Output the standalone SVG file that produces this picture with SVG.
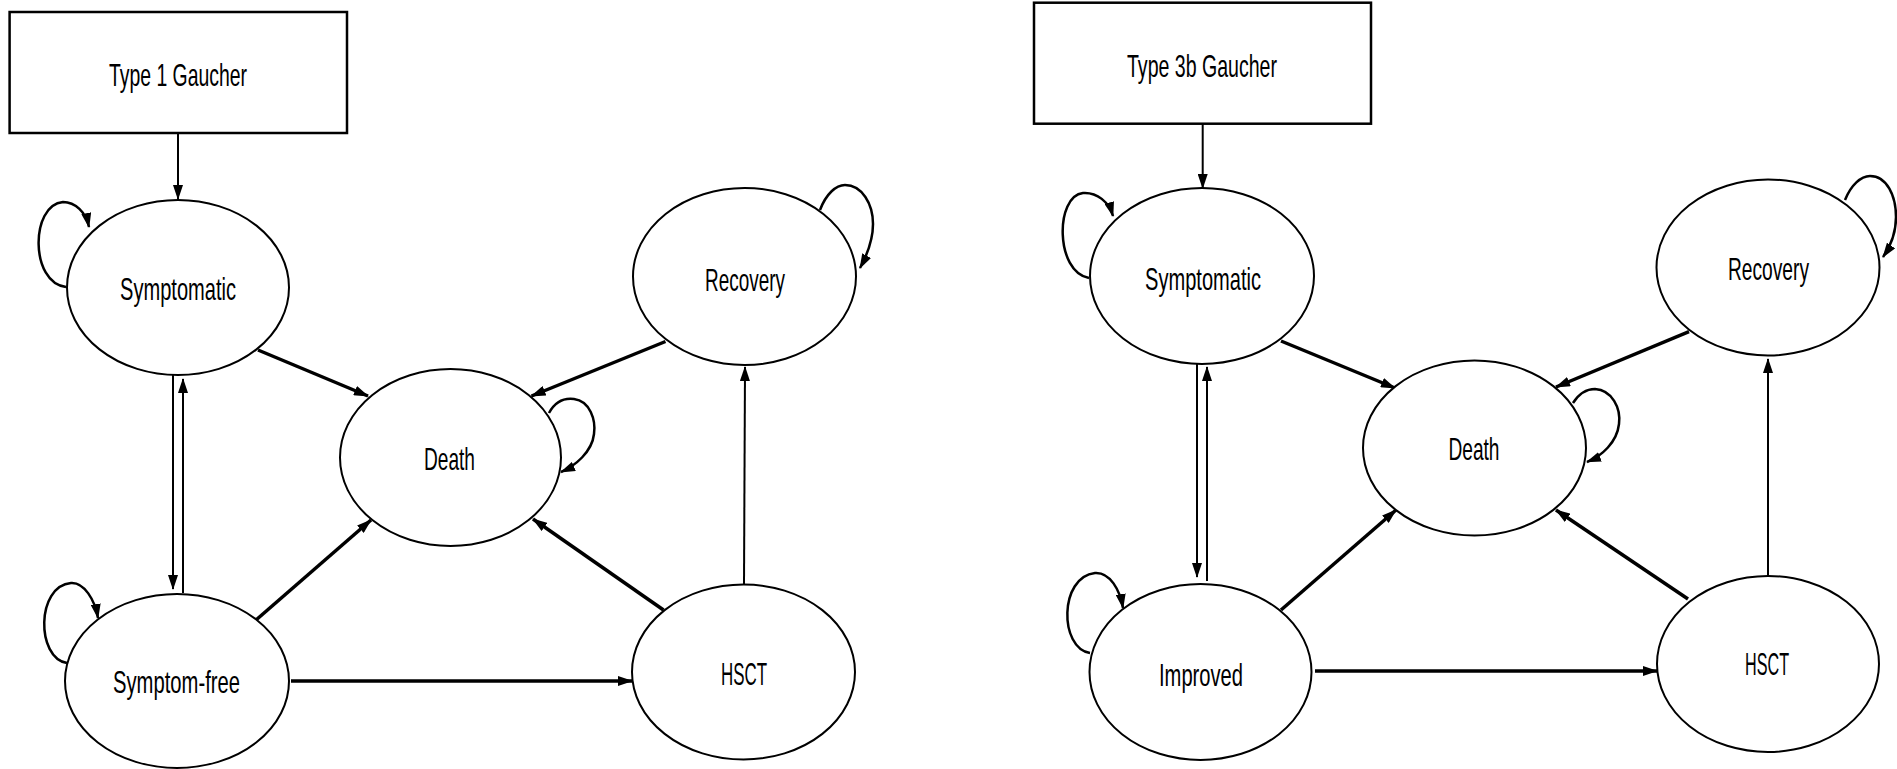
<svg xmlns="http://www.w3.org/2000/svg" width="1897" height="769" viewBox="0 0 1897 769">
<defs>
<marker id="ah" markerUnits="userSpaceOnUse" viewBox="0 0 15 10" markerWidth="15" markerHeight="10" refX="14" refY="5" orient="auto">
<path d="M0,0 L15,5 L0,10 z" fill="#000"/>
</marker>
</defs>
<style>
.box{fill:#fff;stroke:#000;stroke-width:2.5}
.node{fill:#fff;stroke:#000;stroke-width:2}
.lbl{font-family:"Liberation Sans",Arial,sans-serif;font-size:32px;fill:#000;text-anchor:middle}
.thin{fill:none;stroke:#000;stroke-width:2;marker-end:url(#ah)}
.thick{fill:none;stroke:#000;stroke-width:3.5;marker-end:url(#ah)}
.loop{fill:none;stroke:#000;stroke-width:2.5;marker-end:url(#ah)}
</style>
<rect width="1897" height="769" fill="#fff"/>

<g id="connectors">
<!-- left diagram -->
<path class="thin" d="M178,133 L178,199"/>
<path class="thick" d="M258,350 L368,396"/>
<path class="thin" d="M173,375 L173,589"/>
<path class="thin" d="M183,593 L183,379"/>
<path class="thick" d="M256,620 L371,520"/>
<path class="thick" d="M291,681 L632,681"/>
<path class="thick" d="M665.5,341.5 L531.5,396"/>
<path class="thick" d="M663.5,610 L533,519"/>
<path class="thin" d="M744,584.5 L745,367"/>
<path class="loop" d="M66,287 C30,283 30,205 63,202 C75,202 86,212 89,227"/>
<path class="loop" d="M67,663 C36,658 36,586 71,583 C84,582 95,600 98,618"/>
<path class="loop" d="M549,413 C556,400 566,398 574,399 C590,401 596,420 594,434 C592,452 575,466 561,472"/>
<path class="loop" d="M820,210 C826,194 836,185 845,185 C862,185 873,204 873,224 C873,240 867,255 860,268"/>
<!-- right diagram -->
<path class="thin" d="M1202.7,124 L1202.7,188"/>
<path class="thick" d="M1281,341 L1395,388"/>
<path class="thin" d="M1197,364 L1197,577"/>
<path class="thin" d="M1207,581 L1207,367"/>
<path class="thick" d="M1281,610 L1396,510"/>
<path class="thick" d="M1315,671 L1657,671"/>
<path class="thick" d="M1689,331.6 L1556,387"/>
<path class="thick" d="M1688,599 L1556,510"/>
<path class="thin" d="M1768,575.6 L1768,359"/>
<path class="loop" d="M1089,278 C1055,272 1055,196 1083,193 C1097,192 1109,202 1113,216"/>
<path class="loop" d="M1090,653 C1059,648 1059,577 1095,573 C1110,572 1120,590 1123,608"/>
<path class="loop" d="M1573,403 C1580,392 1588,389 1595,389 C1612,390 1621,408 1619,424 C1617,442 1602,456 1587,462"/>
<path class="loop" d="M1845,200 C1851,185 1861,176 1870,176 C1887,176 1896,196 1896,217 C1896,232 1890,247 1883,257"/>
</g>

<g id="type1-box">
<rect class="box" x="9.6" y="12" width="337.4" height="121"/>
<text class="lbl" x="178" y="86" textLength="138" lengthAdjust="spacingAndGlyphs">Type 1 Gaucher</text>
</g>
<g id="l-symptomatic">
<ellipse class="node" cx="178" cy="287.5" rx="111" ry="87.5"/>
<text class="lbl" x="178" y="300" textLength="116" lengthAdjust="spacingAndGlyphs">Symptomatic</text>
</g>
<g id="l-symptomfree">
<ellipse class="node" cx="177" cy="681" rx="112" ry="87"/>
<text class="lbl" x="176.5" y="693" textLength="127" lengthAdjust="spacingAndGlyphs">Symptom-free</text>
</g>
<g id="l-death">
<ellipse class="node" cx="450.5" cy="457.5" rx="110.5" ry="88.5"/>
<text class="lbl" x="449.5" y="470" textLength="51" lengthAdjust="spacingAndGlyphs">Death</text>
</g>
<g id="l-recovery">
<ellipse class="node" cx="744.5" cy="276.5" rx="111.5" ry="88.5"/>
<text class="lbl" x="745" y="290.5" textLength="80" lengthAdjust="spacingAndGlyphs">Recovery</text>
</g>
<g id="l-hsct">
<ellipse class="node" cx="743.5" cy="672" rx="111.5" ry="87.5"/>
<text class="lbl" x="744" y="685" textLength="46" lengthAdjust="spacingAndGlyphs">HSCT</text>
</g>

<g id="type3b-box">
<rect class="box" x="1034" y="2.7" width="337" height="121"/>
<text class="lbl" x="1202" y="77" textLength="150" lengthAdjust="spacingAndGlyphs">Type 3b Gaucher</text>
</g>
<g id="r-symptomatic">
<ellipse class="node" cx="1202" cy="276" rx="112" ry="88"/>
<text class="lbl" x="1203" y="290" textLength="116" lengthAdjust="spacingAndGlyphs">Symptomatic</text>
</g>
<g id="r-improved">
<ellipse class="node" cx="1200.5" cy="672" rx="111" ry="88"/>
<text class="lbl" x="1201" y="686" textLength="84" lengthAdjust="spacingAndGlyphs">Improved</text>
</g>
<g id="r-death">
<ellipse class="node" cx="1474.5" cy="448" rx="111.5" ry="87.5"/>
<text class="lbl" x="1474" y="460" textLength="51" lengthAdjust="spacingAndGlyphs">Death</text>
</g>
<g id="r-recovery">
<ellipse class="node" cx="1768" cy="267.5" rx="111.5" ry="88"/>
<text class="lbl" x="1768.5" y="280" textLength="81" lengthAdjust="spacingAndGlyphs">Recovery</text>
</g>
<g id="r-hsct">
<ellipse class="node" cx="1768" cy="664" rx="111" ry="88"/>
<text class="lbl" x="1767" y="675" textLength="44" lengthAdjust="spacingAndGlyphs">HSCT</text>
</g>
</svg>
